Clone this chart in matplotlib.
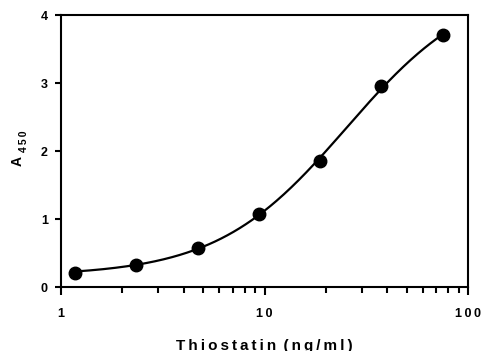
import numpy as np
import matplotlib
matplotlib.use("Agg")
import matplotlib.pyplot as plt
from matplotlib.ticker import FixedLocator, LogLocator, NullFormatter, FixedFormatter

plt.rcParams['font.family'] = ['Liberation Sans', 'DejaVu Sans']
plt.rcParams['font.weight'] = 'bold'

# data
conc = [1.17, 2.34, 4.69, 9.375, 18.75, 37.5, 75.0]
a450 = [0.21, 0.33, 0.58, 1.07, 1.86, 2.95, 3.70]
xticks = [1, 10, 100]
xticklabels = ["1", "1\u20090", "1\u20090\u20090"]
yticks = [0, 1, 2, 3, 4]
yticklabels = ["0", "1", "2", "3", "4"]
xlabel = "T\u2009h\u2009i\u2009o\u2009s\u2009t\u2009a\u2009t\u2009i\u2009n\u2009 (\u2009n\u2009g\u2009/\u2009m\u2009l\u2009)"


def four_pl(p, x):
    a, d, lc, b = p
    return d + (a - d) / (1 + (x / 10 ** lc) ** b)


def fit_4pl(x, y):
    x = np.asarray(x, float); y = np.asarray(y, float)
    p = np.array([0.15, 4.5, np.log10(25.0), 1.5])
    lam = 1e-2
    def sse(q):
        r = y - four_pl(q, x)
        return float(np.sum(r * r))
    cur = sse(p)
    for _ in range(500):
        r = y - four_pl(p, x)
        J = np.zeros((len(x), 4))
        for j in range(4):
            dp = np.zeros(4); dp[j] = 1e-6
            J[:, j] = (four_pl(p + dp, x) - four_pl(p - dp, x)) / 2e-6
        JTJ = J.T @ J
        g = J.T @ r
        step = np.linalg.solve(JTJ + lam * np.diag(np.diag(JTJ) + 1e-9), g)
        newp = p + step
        new = sse(newp) if np.all(np.isfinite(four_pl(newp, x))) else np.inf
        if new < cur:
            p, cur = newp, new
            lam = max(lam / 3, 1e-9)
        else:
            lam *= 4
    return p


W, H = 483, 351
fig = plt.figure(figsize=(W / 100, H / 100), dpi=100)
ax = fig.add_axes([61 / W, 1 - 287 / H, (468 - 61) / W, (287 - 15) / H])

params = fit_4pl(conc, a450)
xs = np.logspace(np.log10(conc[0]), np.log10(conc[-1]), 300)
ax.plot(xs, four_pl(params, xs), color='black', lw=1.6, zorder=2)
ax.plot(conc, a450, 'o', color='black', ms=9, zorder=3)

ax.set_xscale('log')
ax.set_xlim(1, 100)
ax.set_ylim(0, 4)
ax.xaxis.set_major_locator(FixedLocator(xticks))
ax.xaxis.set_major_formatter(FixedFormatter(xticklabels))
ax.xaxis.set_minor_locator(LogLocator(base=10, subs=np.arange(2, 10)))
ax.xaxis.set_minor_formatter(NullFormatter())
ax.set_yticks(yticks)
ax.set_yticklabels(yticklabels)

for s in ax.spines.values():
    s.set_linewidth(1.5)
ax.tick_params(axis='both', which='major', direction='out', width=1.5, labelsize=9)
ax.tick_params(axis='x', which='major', length=6, pad=9)
ax.tick_params(axis='x', which='minor', direction='out', length=4, width=1.5)
ax.tick_params(axis='y', which='major', length=4.5, pad=5)
for lab in ax.get_xticklabels() + ax.get_yticklabels():
    lab.set_fontweight('bold')
    lab.set_family(['Liberation Sans', 'DejaVu Sans'])

ax.set_xlabel(xlabel, fontsize=11, fontweight='bold', labelpad=13.5)

fig.text(17.5 / W, 1 - 161 / H, "A", rotation=90, fontsize=10, fontweight='bold',
         ha='center', va='center')
fig.text(24 / W, 1 - 141 / H, "4\u20095\u20090", rotation=90, fontsize=7.5, fontweight='bold',
         ha='center', va='center')

fig.savefig("out.png", dpi=100)
